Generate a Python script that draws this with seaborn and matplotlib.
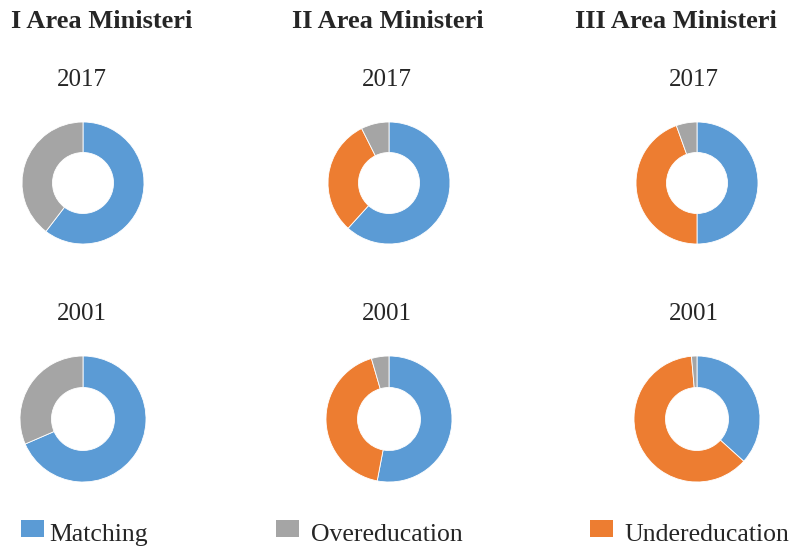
import matplotlib.pyplot as plt
import seaborn as sns
from matplotlib.patches import Rectangle

# dati (percentuali)
areas = ["I Area Ministeri", "II Area Ministeri", "III Area Ministeri"]
years = ["2017", "2001"]
categories = ["Matching", "Undereducation", "Overeducation"]
matching_2017 = [60.4, 61.7, 50.0]
under_2017 = [0.0, 30.9, 44.5]
over_2017 = [39.6, 7.4, 5.5]
matching_2001 = [68.5, 53.0, 36.7]
under_2001 = [0.0, 42.5, 61.9]
over_2001 = [31.5, 4.5, 1.4]
colori = {"Matching": "#5B9BD5", "Overeducation": "#A5A5A5", "Undereducation": "#ED7D31"}
legend_order = ["Matching", "Overeducation", "Undereducation"]

sns.set_theme(style="white")
plt.rcParams['font.family'] = ['Liberation Serif', 'DejaVu Serif']

W, H = 797, 549
fig = plt.figure(figsize=(W / 100, H / 100), dpi=100)

def px(x, y):
    return x / W, 1 - y / H

serie = {
    "2017": (matching_2017, under_2017, over_2017),
    "2001": (matching_2001, under_2001, over_2001),
}
cx = [83, 389, 697]
cy = {"2017": 183, "2001": 419}
raggio = {"2017": 61, "2001": 63}
anno_y = {"2017": 86, "2001": 320.5}
anno_x = [82, 387, 694]

for anno in years:
    m, u, o = serie[anno]
    for i in range(len(areas)):
        vals = [m[i], u[i], o[i]]
        coppie = [(v, c) for v, c in zip(vals, categories) if v > 0]
        r = raggio[anno]
        x0, y0 = px(cx[i] - r, cy[anno] + r)
        ax = fig.add_axes([x0, y0, 2 * r / W, 2 * r / H])
        ax.pie([v for v, _ in coppie], colors=[colori[c] for _, c in coppie],
               startangle=90, counterclock=False, radius=1,
               wedgeprops=dict(width=0.5, edgecolor='white', linewidth=0.6))
        ax.set_xlim(-1, 1)
        ax.set_ylim(-1, 1)
        ax.axis('off')
        tx, ty = px(anno_x[i], anno_y[anno])
        fig.text(tx, ty, anno, ha='center', va='baseline', fontsize=18)

# titoli
title_x = [101.5, 387.5, 676]
for t, x in zip(areas, title_x):
    tx, ty = px(x, 28)
    fig.text(tx, ty, t, ha='center', va='baseline', fontsize=19, fontweight='bold')

# legenda
sq_x = [21, 276, 590]
txt_x = [49, 311, 624]
for cat, sx, tx in zip(legend_order, sq_x, txt_x):
    a, b = px(sx, 536.5)
    fig.patches.append(Rectangle((a, b), 23 / W, 17 / H, transform=fig.transFigure,
                                 facecolor=colori[cat], edgecolor='none'))
    a, b = px(tx, 540.7)
    fig.text(a, b, cat, ha='left', va='baseline', fontsize=18.5)

plt.savefig('out.png', dpi=100)
